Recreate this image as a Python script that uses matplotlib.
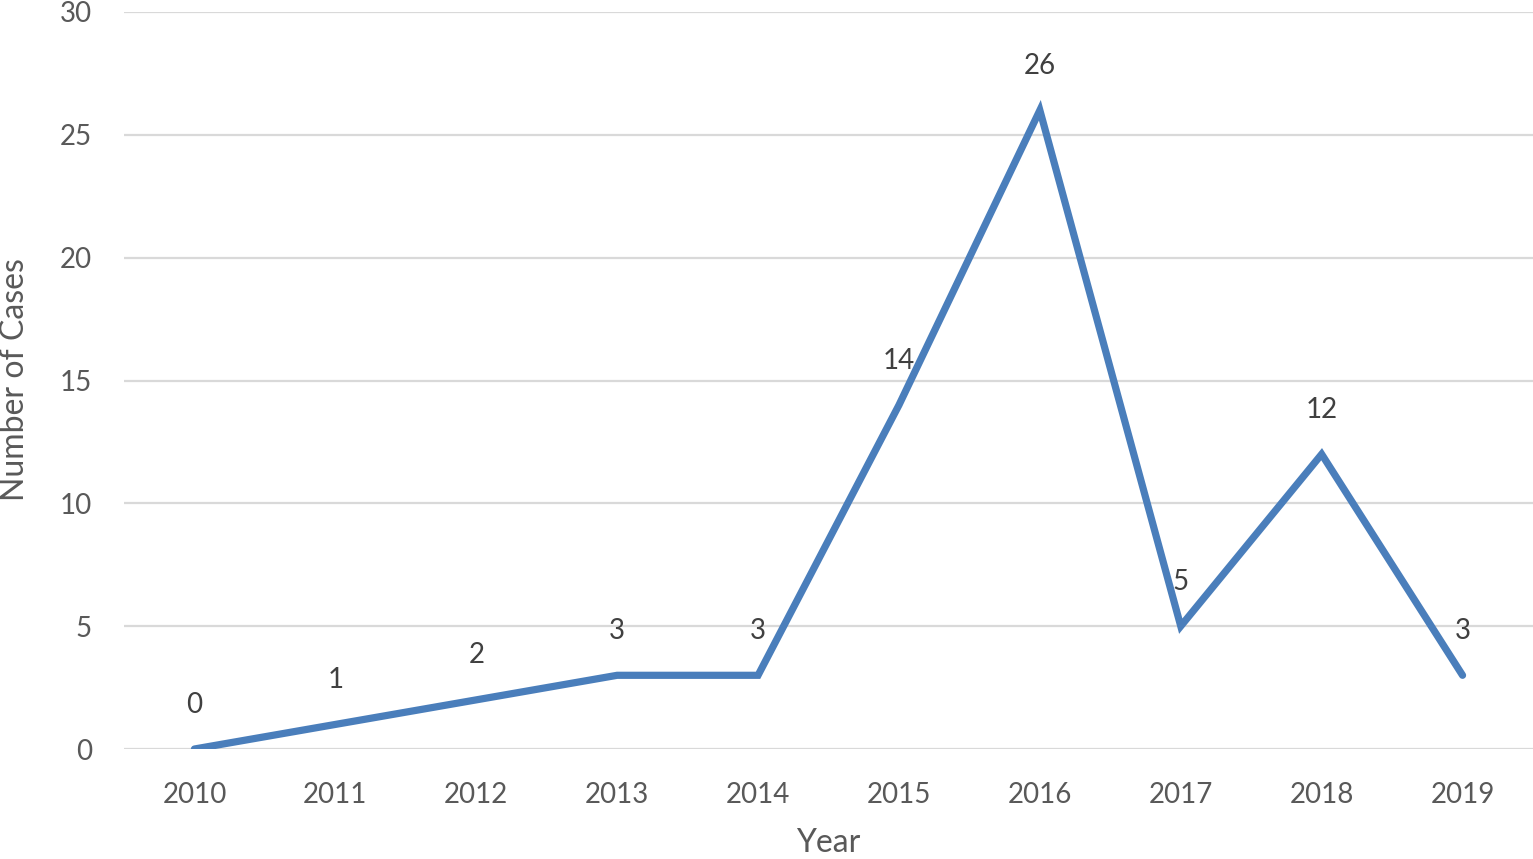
import matplotlib.pyplot as plt

years = ['2010', '2011', '2012', '2013', '2014', '2015', '2016', '2017', '2018', '2019']
cases = [0, 1, 2, 3, 3, 14, 26, 5, 12, 3]
yticks = [0, 5, 10, 15, 20, 25, 30]

plt.rcParams['font.family'] = ['Lato', 'DejaVu Sans']

fig = plt.figure(figsize=(15.33, 8.59), dpi=100)
ax = fig.add_axes([124/1533, 1-749/859, 1-124/1533, (749-12)/859])

x = list(range(len(years)))
ax.plot(x, cases, color='#4a7ebb', linewidth=5.2, solid_capstyle='round', solid_joinstyle='miter', zorder=3)

# data labels above each point
for xi, v in zip(x, cases):
    ax.annotate(str(v), (xi, v), xytext=(0, 32), textcoords='offset points',
                ha='center', va='center', fontsize=20, color='#404040')

ax.set_xlim(-0.5, len(years) - 0.5)
ax.set_ylim(0, 30)
ax.set_yticks(yticks)
ax.set_xticks(x)
ax.set_xticklabels(years)
ax.grid(axis='y', color='#d9d9d9', linewidth=1.6)
ax.set_axisbelow(True)
for s in ax.spines.values():
    s.set_visible(False)
ax.tick_params(length=0, labelsize=20, labelcolor='#595959')
ax.tick_params(axis='y', pad=23)
ax.tick_params(axis='x', pad=24)
ax.set_xlabel('Year', fontsize=23, color='#595959', labelpad=14)
fig.text(15/1533, 1-380/859, 'Number of Cases', rotation=90, ha='center', va='center',
         fontsize=23, color='#595959')

fig.savefig('out.png', dpi=100)
